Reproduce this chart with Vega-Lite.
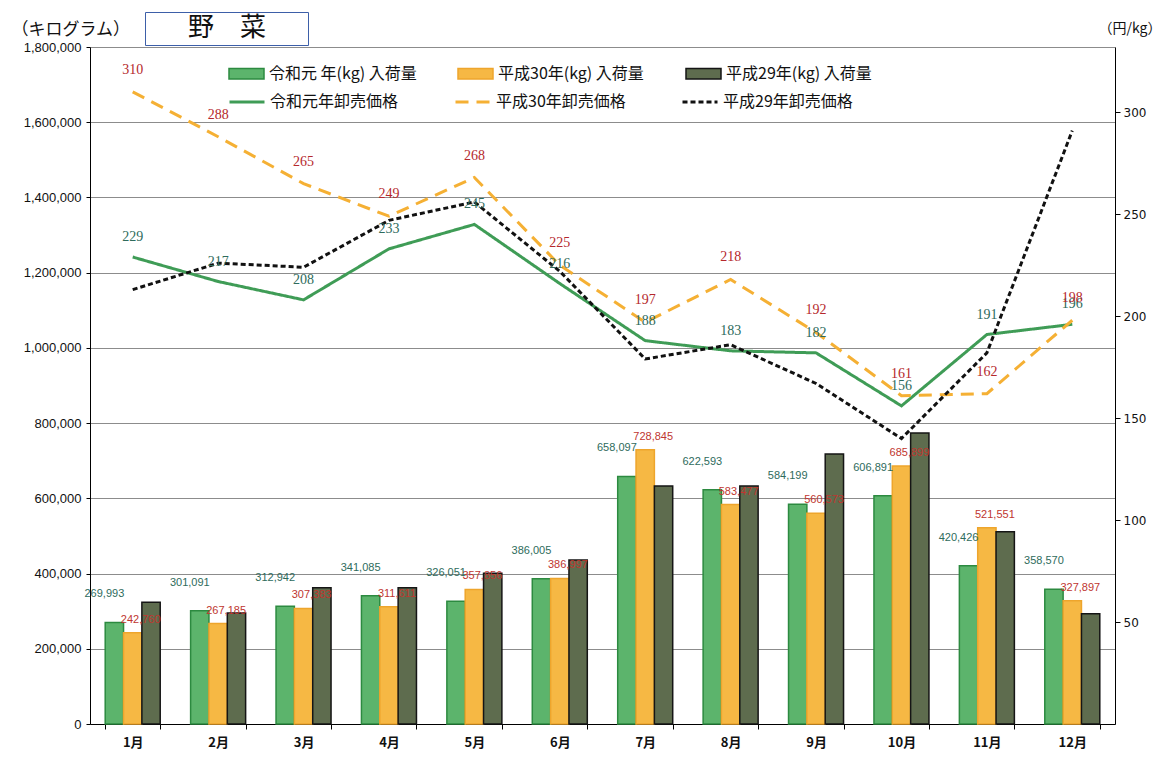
{
  "$schema": "https://vega.github.io/schema/vega-lite/v6.json",
  "width": 1025,
  "height": 677,
  "autosize": {"type": "none"},
  "padding": {"left": 90, "top": 47, "right": 48, "bottom": 34},
  "background": "white",
  "config": {
    "view": {"stroke": null},
    "font": "Noto Sans CJK JP",
    "legend": {"labelFont": "Noto Sans CJK JP", "labelFontSize": 16, "labelColor": "#111111", "titleFont": "Noto Sans CJK JP"}
  },
  "datasets": {
    "bars": [
      {"m": "1月", "s": "令和元 年(kg) 入荷量", "v": 269993},
      {"m": "2月", "s": "令和元 年(kg) 入荷量", "v": 301091},
      {"m": "3月", "s": "令和元 年(kg) 入荷量", "v": 312942},
      {"m": "4月", "s": "令和元 年(kg) 入荷量", "v": 341085},
      {"m": "5月", "s": "令和元 年(kg) 入荷量", "v": 326051},
      {"m": "6月", "s": "令和元 年(kg) 入荷量", "v": 386005},
      {"m": "7月", "s": "令和元 年(kg) 入荷量", "v": 658097},
      {"m": "8月", "s": "令和元 年(kg) 入荷量", "v": 622593},
      {"m": "9月", "s": "令和元 年(kg) 入荷量", "v": 584199},
      {"m": "10月", "s": "令和元 年(kg) 入荷量", "v": 606891},
      {"m": "11月", "s": "令和元 年(kg) 入荷量", "v": 420426},
      {"m": "12月", "s": "令和元 年(kg) 入荷量", "v": 358570},
      {"m": "1月", "s": "平成30年(kg) 入荷量", "v": 242760},
      {"m": "2月", "s": "平成30年(kg) 入荷量", "v": 267185},
      {"m": "3月", "s": "平成30年(kg) 入荷量", "v": 307383},
      {"m": "4月", "s": "平成30年(kg) 入荷量", "v": 311611},
      {"m": "5月", "s": "平成30年(kg) 入荷量", "v": 357856},
      {"m": "6月", "s": "平成30年(kg) 入荷量", "v": 386997},
      {"m": "7月", "s": "平成30年(kg) 入荷量", "v": 728845},
      {"m": "8月", "s": "平成30年(kg) 入荷量", "v": 583477},
      {"m": "9月", "s": "平成30年(kg) 入荷量", "v": 560573},
      {"m": "10月", "s": "平成30年(kg) 入荷量", "v": 685899},
      {"m": "11月", "s": "平成30年(kg) 入荷量", "v": 521551},
      {"m": "12月", "s": "平成30年(kg) 入荷量", "v": 327897},
      {"m": "1月", "s": "平成29年(kg) 入荷量", "v": 324000},
      {"m": "2月", "s": "平成29年(kg) 入荷量", "v": 295000},
      {"m": "3月", "s": "平成29年(kg) 入荷量", "v": 362000},
      {"m": "4月", "s": "平成29年(kg) 入荷量", "v": 362000},
      {"m": "5月", "s": "平成29年(kg) 入荷量", "v": 401000},
      {"m": "6月", "s": "平成29年(kg) 入荷量", "v": 436000},
      {"m": "7月", "s": "平成29年(kg) 入荷量", "v": 633000},
      {"m": "8月", "s": "平成29年(kg) 入荷量", "v": 633000},
      {"m": "9月", "s": "平成29年(kg) 入荷量", "v": 718000},
      {"m": "10月", "s": "平成29年(kg) 入荷量", "v": 774000},
      {"m": "11月", "s": "平成29年(kg) 入荷量", "v": 511000},
      {"m": "12月", "s": "平成29年(kg) 入荷量", "v": 293000}
    ],
    "lines": [
      {"m": "1月", "s": "令和元年卸売価格", "p": 229},
      {"m": "2月", "s": "令和元年卸売価格", "p": 217},
      {"m": "3月", "s": "令和元年卸売価格", "p": 208},
      {"m": "4月", "s": "令和元年卸売価格", "p": 233},
      {"m": "5月", "s": "令和元年卸売価格", "p": 245},
      {"m": "6月", "s": "令和元年卸売価格", "p": 216},
      {"m": "7月", "s": "令和元年卸売価格", "p": 188},
      {"m": "8月", "s": "令和元年卸売価格", "p": 183},
      {"m": "9月", "s": "令和元年卸売価格", "p": 182},
      {"m": "10月", "s": "令和元年卸売価格", "p": 156},
      {"m": "11月", "s": "令和元年卸売価格", "p": 191},
      {"m": "12月", "s": "令和元年卸売価格", "p": 196},
      {"m": "1月", "s": "平成30年卸売価格", "p": 310},
      {"m": "2月", "s": "平成30年卸売価格", "p": 288},
      {"m": "3月", "s": "平成30年卸売価格", "p": 265},
      {"m": "4月", "s": "平成30年卸売価格", "p": 249},
      {"m": "5月", "s": "平成30年卸売価格", "p": 268},
      {"m": "6月", "s": "平成30年卸売価格", "p": 225},
      {"m": "7月", "s": "平成30年卸売価格", "p": 197},
      {"m": "8月", "s": "平成30年卸売価格", "p": 218},
      {"m": "9月", "s": "平成30年卸売価格", "p": 192},
      {"m": "10月", "s": "平成30年卸売価格", "p": 161},
      {"m": "11月", "s": "平成30年卸売価格", "p": 162},
      {"m": "12月", "s": "平成30年卸売価格", "p": 198},
      {"m": "1月", "s": "平成29年卸売価格", "p": 213},
      {"m": "2月", "s": "平成29年卸売価格", "p": 226},
      {"m": "3月", "s": "平成29年卸売価格", "p": 224},
      {"m": "4月", "s": "平成29年卸売価格", "p": 247},
      {"m": "5月", "s": "平成29年卸売価格", "p": 256},
      {"m": "6月", "s": "平成29年卸売価格", "p": 222},
      {"m": "7月", "s": "平成29年卸売価格", "p": 179},
      {"m": "8月", "s": "平成29年卸売価格", "p": 186},
      {"m": "9月", "s": "平成29年卸売価格", "p": 167},
      {"m": "10月", "s": "平成29年卸売価格", "p": 140},
      {"m": "11月", "s": "平成29年卸売価格", "p": 182},
      {"m": "12月", "s": "平成29年卸売価格", "p": 291}
    ],
    "titlebox": [{"t": "x"}]
  },
  "layer": [
    {
      "data": {"name": "bars"},
      "encoding": {
        "x": {
          "field": "m", "type": "nominal",
          "sort": ["1月","2月","3月","4月","5月","6月","7月","8月","9月","10月","11月","12月"],
          "scale": {"domain": ["1月","2月","3月","4月","5月","6月","7月","8月","9月","10月","11月","12月"], "paddingInner": 0.356, "paddingOuter": 0.178},
          "axis": {"title": null, "labelAngle": 0, "domainColor": "#000000", "domainWidth": 1, "ticks": true, "tickBand": "extent", "tickColor": "#000000", "tickSize": 5, "labelFont": "Noto Sans CJK JP", "labelFontSize": 13, "labelFontWeight": "bold", "labelColor": "#111111", "labelPadding": 7, "grid": false}
        },
        "y": {
          "field": "v", "type": "quantitative",
          "scale": {"domain": [0, 1800000], "nice": false},
          "axis": {"orient": "left", "values": [0,200000,400000,600000,800000,1000000,1200000,1400000,1600000,1800000], "format": ",d", "grid": true, "gridColor": "#8c8c8c", "gridWidth": 1, "domainColor": "#000000", "tickColor": "#000000", "tickSize": 4, "labelFont": "Liberation Sans", "labelFontSize": 13, "labelColor": "#111111", "labelPadding": 5,
            "title": "（キログラム）", "titleAngle": 0, "titleX": -79, "titleY": -18, "titleAlign": "left", "titleBaseline": "middle", "titleFont": "Noto Sans CJK JP", "titleFontSize": 17, "titleFontWeight": "normal", "titleColor": "#111111"}
        },
        "xOffset": {"field": "s", "type": "nominal", "scale": {"domain": ["令和元 年(kg) 入荷量", "平成30年(kg) 入荷量", "平成29年(kg) 入荷量"], "paddingInner": 0, "paddingOuter": 0}}
      },
      "layer": [
        {
          "mark": {"type": "bar", "strokeWidth": 1.5},
          "encoding": {
            "fill": {"field": "s", "type": "nominal",
              "scale": {"domain": ["令和元 年(kg) 入荷量", "平成30年(kg) 入荷量", "平成29年(kg) 入荷量"], "range": ["#5cb46c", "#f6b844", "#5e6c4e"]},
              "legend": {"title": null, "orient": "none", "direction": "horizontal", "legendX": 138, "legendY": 8, "symbolType": "M-1,-0.3H1V0.3H-1Z", "symbolSize": 1225, "symbolStrokeWidth": 1.5, "columnPadding": 38, "labelOffset": 4,
                "encode": {"symbols": {"update": {"stroke": {"signal": "datum.value === '令和元 年(kg) 入荷量' ? '#2c8a40' : datum.value === '平成30年(kg) 入荷量' ? '#eea52c' : '#151515'"}}}}}},
            "stroke": {"field": "s", "type": "nominal",
              "scale": {"domain": ["令和元 年(kg) 入荷量", "平成30年(kg) 入荷量", "平成29年(kg) 入荷量"], "range": ["#2c8a40", "#eea52c", "#151515"]},
              "legend": null}
          }
        },
        {
          "transform": [{"filter": "datum.s === '令和元 年(kg) 入荷量'"}],
          "mark": {"type": "text", "baseline": "bottom", "dy": -23, "dx": -10, "font": "Liberation Sans", "fontSize": 11, "color": "#2e6b5c"},
          "encoding": {"text": {"field": "v", "type": "quantitative", "format": ",d"}}
        },
        {
          "transform": [{"filter": "datum.s === '平成30年(kg) 入荷量'"}],
          "mark": {"type": "text", "baseline": "bottom", "dy": -8, "dx": 8, "font": "Liberation Sans", "fontSize": 11, "color": "#c0362f"},
          "encoding": {"text": {"field": "v", "type": "quantitative", "format": ",d"}}
        }
      ]
    },
    {
      "data": {"name": "lines"},
      "encoding": {
        "x": {
          "field": "m", "type": "nominal",
          "sort": ["1月","2月","3月","4月","5月","6月","7月","8月","9月","10月","11月","12月"],
          "scale": {"domain": ["1月","2月","3月","4月","5月","6月","7月","8月","9月","10月","11月","12月"], "paddingInner": 0.356, "paddingOuter": 0.178},
          "axis": {"title": null, "labelAngle": 0, "domainColor": "#000000", "domainWidth": 1, "ticks": true, "tickBand": "extent", "tickColor": "#000000", "tickSize": 5, "labelFont": "Noto Sans CJK JP", "labelFontSize": 13, "labelFontWeight": "bold", "labelColor": "#111111", "labelPadding": 7, "grid": false}
        },
        "y": {
          "field": "p", "type": "quantitative",
          "scale": {"domain": [0, 332], "nice": false},
          "axis": {"orient": "right", "values": [50,100,150,200,250,300], "grid": false, "domainColor": "#000000", "tickColor": "#000000", "tickSize": 5, "labelFont": "DejaVu Sans", "labelFontSize": 12, "labelColor": "#111111", "labelPadding": 3,
            "title": "（円/kg）", "titleAngle": 0, "titleX": -17, "titleY": -19, "titleAlign": "left", "titleBaseline": "middle", "titleFont": "Noto Sans CJK JP", "titleFontSize": 14, "titleFontWeight": "normal", "titleColor": "#111111"}
        }
      },
      "layer": [
        {
          "mark": {"type": "line"},
          "encoding": {
            "stroke": {"field": "s", "type": "nominal",
              "scale": {"domain": ["令和元年卸売価格", "平成30年卸売価格", "平成29年卸売価格"], "range": ["#3f9c56", "#f5b034", "#111111"]},
              "legend": {"title": null, "orient": "none", "direction": "horizontal", "legendX": 138, "legendY": 36, "symbolType": "stroke", "symbolSize": 1225, "symbolStrokeWidth": 3, "columnPadding": 50, "labelOffset": 4}},
            "strokeDash": {"field": "s", "type": "nominal",
              "scale": {"domain": ["令和元年卸売価格", "平成30年卸売価格", "平成29年卸売価格"], "range": [[1, 0], [13, 8], [5, 3]]},
              "legend": {"title": null, "orient": "none", "direction": "horizontal", "legendX": 138, "legendY": 36, "symbolType": "stroke", "symbolSize": 1225, "symbolStrokeWidth": 3, "columnPadding": 50, "labelOffset": 4}},
            "strokeWidth": {"field": "s", "type": "nominal",
              "scale": {"domain": ["令和元年卸売価格", "平成30年卸売価格", "平成29年卸売価格"], "range": [3, 3, 2]},
              "legend": null}
          }
        },
        {
          "transform": [{"filter": "datum.s === '令和元年卸売価格'"}],
          "mark": {"type": "text", "baseline": "middle", "dy": -20, "font": "Liberation Serif", "fontSize": 14, "color": "#2e6b5c"},
          "encoding": {"text": {"field": "p", "type": "quantitative"}}
        },
        {
          "transform": [{"filter": "datum.s === '平成30年卸売価格'"}],
          "mark": {"type": "text", "baseline": "middle", "dy": -22, "font": "Liberation Serif", "fontSize": 14, "color": "#b5282c"},
          "encoding": {"text": {"field": "p", "type": "quantitative"}}
        }
      ]
    },
    {
      "data": {"name": "titlebox"},
      "mark": {"type": "point", "opacity": 0},
      "encoding": {
        "shape": {"field": "t", "type": "nominal",
          "scale": {"range": ["square"]},
          "legend": {"title": "野　菜", "orient": "none", "legendX": 55, "legendY": -35, "titleAnchor": "middle", "titleFontSize": 26, "titleFontWeight": "normal", "titleColor": "#111111", "titleFont": "Noto Sans CJK JP", "titlePadding": 0, "titleLimit": 400, "labelExpr": "''", "labelFontSize": 1, "labelOffset": 0, "symbolSize": 24649, "clipHeight": 1, "symbolOpacity": 0, "symbolStrokeWidth": 0, "padding": 3, "strokeColor": "#3d5fa8", "fillColor": "#ffffff"}}
      }
    }
  ],
  "resolve": {"scale": {"y": "independent", "stroke": "independent", "strokeDash": "independent"}}
}
